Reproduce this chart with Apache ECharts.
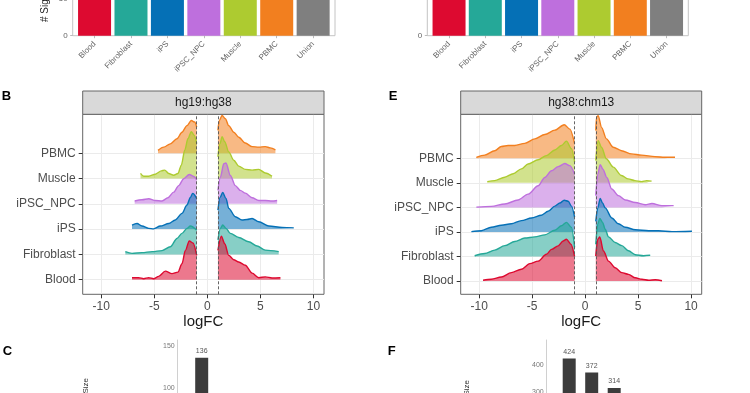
<!DOCTYPE html>
<html><head><meta charset="utf-8">
<script src="https://cdn.jsdelivr.net/npm/echarts@6/dist/echarts.min.js"></script>
<style>html,body{margin:0;padding:0;background:#fff}#c{width:750px;height:393px}</style>
</head><body><div id="c"></div>
<script>
// ---------- data ----------
const tissues = ['Blood','Fibroblast','iPS','iPSC_NPC','Muscle','PBMC'];
const barCats = ['Blood','Fibroblast','iPS','iPSC_NPC','Muscle','PBMC','Union'];
const ridgeTicks = [-10,-5,0,5,10];
// top panels (bars run past the top edge of the crop)
const sigLeft  = [120, 110, 130, 115, 100, 112, 160];
const sigRight = [420, 380, 450, 400, 360, 390, 560];
// bottom panels (intersection sizes visible in the crop)
const interC = [136];
const interF = [424, 372, 314];

// ridge densities, [logFC, scaled height] — hg19:hg38
const B_PBMC_neg = [[-4.65,0.11],[-4.11,0.24],[-3.49,0.37],[-2.86,0.57],[-2.39,0.83],[-1.92,1.09],[-1.51,1.29],[-1.19,1.23],[-1.0,1.03]];
const B_PBMC_pos = [[1.0,0.9],[1.13,1.29],[1.39,1.49],[1.7,1.36],[2.02,1.09],[2.49,0.83],[2.96,0.63],[3.58,0.4],[4.22,0.26],[4.85,0.24],[5.47,0.26],[5.94,0.21],[6.42,0.13]];
const B_Muscle_neg = [[-6.3,0.2],[-6.0,0.09],[-5.53,0.09],[-4.9,0.17],[-4.34,0.3],[-4.02,0.33],[-3.64,0.2],[-3.17,0.13],[-2.77,0.2],[-2.45,0.53],[-2.13,1.12],[-1.82,1.58],[-1.51,1.85],[-1.25,1.71],[-1.0,1.38]];
const B_Muscle_pos = [[1.0,0.86],[1.2,1.38],[1.39,1.65],[1.64,1.45],[2.02,1.05],[2.49,0.72],[2.96,0.49],[3.58,0.36],[4.22,0.33],[4.85,0.36],[5.47,0.22],[6.1,0.09]];
const B_NPC_neg = [[-6.85,0.11],[-6.16,0.16],[-5.53,0.2],[-4.9,0.13],[-4.27,0.11],[-3.71,0.24],[-3.17,0.46],[-2.7,0.72],[-2.23,0.99],[-1.7,1.16],[-1.28,1.08],[-1.0,0.95]];
const B_NPC_pos = [[1.0,0.53],[1.23,1.05],[1.55,1.58],[1.76,1.61],[2.17,1.12],[2.64,0.72],[3.11,0.53],[3.58,0.42],[4.22,0.24],[4.85,0.13],[5.47,0.13],[6.1,0.11],[6.58,0.13]];
const B_iPS_neg = [[-7.1,0.16],[-6.63,0.22],[-6.16,0.12],[-5.53,0.03],[-5.06,0.01],[-4.43,0.12],[-3.64,0.22],[-3.02,0.36],[-2.39,0.62],[-1.92,0.95],[-1.6,1.25],[-1.38,1.41],[-1.0,1.21]];
const B_iPS_pos = [[1.0,0.75],[1.2,1.25],[1.45,1.45],[1.76,1.21],[2.02,0.82],[2.64,0.49],[3.27,0.36],[3.75,0.38],[4.22,0.42],[4.85,0.29],[5.8,0.12],[7.05,0.07],[8.15,0.05]];
const B_Fib_neg = [[-7.73,0.11],[-7.1,0.04],[-6.16,0.07],[-5.2,0.11],[-4.27,0.15],[-3.49,0.3],[-2.86,0.63],[-2.39,0.83],[-1.92,1.03],[-1.6,1.12],[-1.0,0.96]];
const B_Fib_pos = [[1.0,0.57],[1.23,1.03],[1.45,1.16],[1.76,1.03],[2.17,0.83],[2.96,0.67],[3.9,0.5],[4.69,0.33],[5.47,0.17],[6.73,0.11]];
const B_Blood_neg = [[-7.1,0.08],[-6.47,0.08],[-6.0,0.04],[-5.53,0.08],[-5.06,0.04],[-4.59,0.13],[-3.96,0.34],[-3.33,0.24],[-2.77,0.3],[-2.39,0.63],[-2.07,1.16],[-1.7,1.53],[-1.35,1.45],[-1.0,0.96]];
const B_Blood_pos = [[1.0,1.16],[1.32,1.72],[1.64,1.42],[2.02,0.96],[2.49,0.79],[2.96,0.7],[3.58,0.57],[4.22,0.26],[4.85,0.08],[5.47,0.11],[6.1,0.07],[6.89,0.08]];

// ridge densities — hg38:chm13
const E_PBMC_neg = [[-10.27,0.04],[-9.48,0.13],[-8.54,0.31],[-7.91,0.48],[-7.28,0.52],[-6.65,0.52],[-5.7,0.61],[-4.75,0.79],[-3.81,0.97],[-2.86,1.15],[-1.98,1.37],[-1.45,1.19],[-1.0,0.6]];
const E_PBMC_pos = [[1.0,1.13],[1.07,1.67],[1.23,1.74],[1.54,1.26],[2.01,0.79],[2.65,0.45],[3.43,0.31],[4.38,0.18],[5.32,0.13],[6.59,0.07],[7.53,0.04],[8.48,0.04]];
const E_Muscle_neg = [[-9.24,0.05],[-8.54,0.09],[-7.59,0.23],[-6.8,0.37],[-6.02,0.57],[-5.39,0.77],[-4.44,0.94],[-3.66,1.11],[-2.86,1.34],[-2.24,1.52],[-1.77,1.7],[-1.29,1.39],[-1.0,0.85]];
const E_Muscle_pos = [[1.0,0.91],[1.23,1.72],[1.54,1.45],[2.0,0.98],[2.65,0.64],[3.43,0.3],[4.06,0.16],[4.7,0.09],[5.32,0.05],[5.8,0.09],[6.27,0.07]];
const E_NPC_neg = [[-10.27,0.01],[-8.86,0.04],[-7.59,0.14],[-6.33,0.3],[-5.39,0.54],[-4.44,0.88],[-3.81,1.22],[-3.18,1.49],[-2.55,1.66],[-1.92,1.79],[-1.45,1.7],[-1.0,1.35]];
const E_NPC_pos = [[1.0,0.48],[1.19,1.36],[1.42,1.74],[1.67,1.56],[2.04,1.22],[2.51,0.75],[3.14,0.48],[3.78,0.3],[4.73,0.2],[5.67,0.11],[6.3,0.16],[7.24,0.07],[8.35,0.07]];
const E_iPS_neg = [[-10.74,0.01],[-9.8,0.05],[-8.86,0.19],[-7.91,0.27],[-6.97,0.33],[-6.02,0.46],[-5.07,0.57],[-4.13,0.68],[-3.5,0.84],[-2.86,1.05],[-2.39,1.18],[-1.98,1.29],[-1.6,1.25],[-1.29,1.05],[-1.0,0.6]];
const E_iPS_pos = [[1.0,0.43],[1.19,0.98],[1.42,1.36],[1.64,1.18],[1.89,0.98],[2.51,0.57],[3.14,0.33],[3.78,0.19],[4.73,0.09],[5.99,0.05],[6.93,0.05],[8.19,0.01],[10.08,0.03]];
const E_Fib_neg = [[-10.43,0.03],[-9.48,0.12],[-8.54,0.26],[-7.59,0.44],[-6.65,0.61],[-5.7,0.75],[-4.75,0.8],[-3.81,0.88],[-2.86,1.07],[-2.24,1.25],[-1.77,1.39],[-1.29,1.18],[-1.0,0.37]];
const E_Fib_pos = [[1.0,0.5],[1.19,1.32],[1.38,1.55],[1.64,1.39],[1.89,1.11],[2.2,0.8],[2.83,0.57],[3.46,0.44],[4.09,0.23],[4.73,0.07],[5.51,0.03],[6.14,0.05]];
const E_Blood_neg = [[-9.64,0.03],[-8.86,0.07],[-7.91,0.16],[-6.97,0.34],[-6.02,0.48],[-5.23,0.71],[-4.44,0.81],[-3.66,1.09],[-3.18,1.29],[-2.55,1.43],[-2.08,1.63],[-1.77,1.7],[-1.35,1.5],[-1.0,1.0]];
const E_Blood_pos = [[1.0,1.02],[1.19,1.7],[1.38,1.79],[1.73,1.22],[2.2,0.81],[2.83,0.54],[3.46,0.34],[4.09,0.27],[4.73,0.13],[5.36,0.07],[5.99,0.03],[6.62,0.05],[7.25,0.01]];

const ridgesB = {PBMC:[B_PBMC_neg,B_PBMC_pos], Muscle:[B_Muscle_neg,B_Muscle_pos], iPSC_NPC:[B_NPC_neg,B_NPC_pos], iPS:[B_iPS_neg,B_iPS_pos], Fibroblast:[B_Fib_neg,B_Fib_pos], Blood:[B_Blood_neg,B_Blood_pos]};
const ridgesE = {PBMC:[E_PBMC_neg,E_PBMC_pos], Muscle:[E_Muscle_neg,E_Muscle_pos], iPSC_NPC:[E_NPC_neg,E_NPC_pos], iPS:[E_iPS_neg,E_iPS_pos], Fibroblast:[E_Fib_neg,E_Fib_pos], Blood:[E_Blood_neg,E_Blood_pos]};

// ---------- style ----------
const FONT = 'Liberation Sans, Arial, Helvetica, sans-serif';
const colors = {Blood:'#DD0A30', Fibroblast:'#25A898', iPS:'#0570B6', iPSC_NPC:'#BE6FDD', Muscle:'#ADCB30', PBMC:'#F27F1F', Union:'#7F7F7F'};
const TXT = '#4D4D4D';

const chart = echarts.init(document.getElementById('c'), null, {renderer:'canvas'});

function barXAxis(gi){
  return {gridIndex:gi, type:'value', min:0.4, max:7.6,
    axisLine:{show:false, onZero:false}, splitLine:{show:false},
    axisTick:{show:true, length:2.5, lineStyle:{color:'#AAAAAA', width:0.8}, customValues:[1,2,3,4,5,6,7]},
    axisLabel:{customValues:[1,2,3,4,5,6,7], formatter:v=>barCats[Math.round(v)-1], rotate:45, fontSize:8, color:'#666', margin:7, fontFamily:FONT}};
}
function barYAxis(gi, max, interval){
  return {gridIndex:gi, type:'value', min:0, max:max, interval:interval,
    axisLine:{show:false, onZero:false}, splitLine:{show:false},
    axisTick:{show:true, length:2.5, lineStyle:{color:'#AAAAAA', width:0.8}},
    axisLabel:{fontSize:8, color:'#666', margin:5, fontFamily:FONT}};
}
function ridgeXAxis(gi){
  return {gridIndex:gi, type:'value', min:-11.75, max:11.0,
    name:'logFC', nameLocation:'middle', nameGap:20,
    nameTextStyle:{fontSize:15, color:'#1A1A1A', fontFamily:FONT},
    axisLine:{show:false, onZero:false},
    axisTick:{show:true, length:4, lineStyle:{color:'#333', width:1}, customValues:ridgeTicks},
    axisLabel:{customValues:ridgeTicks, fontSize:12, color:TXT, margin:6, fontFamily:FONT},
    splitLine:{show:true, lineStyle:{color:'#EBEBEB', width:1}}};
}
function ridgeYAxis(gi, min, max){
  return {gridIndex:gi, type:'value', min:min, max:max,
    axisLine:{show:false, onZero:false},
    axisTick:{show:true, length:4, lineStyle:{color:'#333', width:1}, customValues:[1,2,3,4,5,6]},
    axisLabel:{customValues:[1,2,3,4,5,6], formatter:v=>tissues[Math.round(v)-1], fontSize:12, color:TXT, margin:7, fontFamily:FONT},
    splitLine:{show:true, lineStyle:{color:'#EBEBEB', width:1}}};
}
function upXAxis(gi){
  return {gridIndex:gi, type:'value', min:0, max:8, show:false, axisLine:{onZero:false}};
}
function upYAxis(gi, max, interval){
  return {gridIndex:gi, type:'value', min:0, max:max, interval:interval,
    axisLine:{show:true, onZero:false, lineStyle:{color:'#D0D0D0', width:1}},
    axisTick:{show:false}, splitLine:{show:false},
    axisLabel:{fontSize:7, color:'#777', margin:3, showMaxLabel:false, fontFamily:FONT}};
}

const series = [];
// top bars
series.push({type:'bar', xAxisIndex:0, yAxisIndex:0, barWidth:33,
  data: sigLeft.map((v,i)=>({value:[i+1,v], itemStyle:{color:colors[barCats[i]]}}))});
series.push({type:'bar', xAxisIndex:1, yAxisIndex:1, barWidth:33,
  data: sigRight.map((v,i)=>({value:[i+1,v], itemStyle:{color:colors[barCats[i]]}}))});

function addRidges(ridges, ai){
  const order = ['PBMC','Muscle','iPSC_NPC','iPS','Fibroblast','Blood'];
  order.forEach((t, k)=>{
    const base = tissues.indexOf(t) + 1;
    ridges[t].forEach((pts, side)=>{
      const s = {type:'line', xAxisIndex:ai, yAxisIndex:ai,
        data: pts.map(p=>[p[0], base + p[1]]),
        smooth:0.3, smoothMonotone:'x', symbol:'none', showSymbol:false,
        lineStyle:{color:colors[t], width:1.4},
        areaStyle:{color:colors[t], opacity:0.55, origin:base},
        z: 2 + k*0.01, silent:true};
      if (t==='Blood' && side===1){
        s.markLine = {silent:true, symbol:['none','none'], label:{show:false},
          lineStyle:{color:'#555', type:[3,2], width:0.9},
          data:[{xAxis:-1},{xAxis:1}]};
      }
      series.push(s);
    });
  });
}
addRidges(ridgesB, 2);
addRidges(ridgesE, 3);

const upLabel = {show:true, position:'top', fontSize:7, color:'#555', distance:3, fontFamily:FONT};
series.push({type:'bar', xAxisIndex:4, yAxisIndex:4, barWidth:13, itemStyle:{color:'#3C3C3C'}, label:upLabel,
  data: interC.map((v,i)=>[i+1,v])});
series.push({type:'bar', xAxisIndex:5, yAxisIndex:5, barWidth:13, itemStyle:{color:'#3C3C3C'}, label:upLabel,
  data: interF.map((v,i)=>[i+1,v])});

function strip(x, w, txt){
  return [
    {type:'rect', shape:{x:x, y:91, width:w, height:23.3}, style:{fill:'#D9D9D9', stroke:'#666', lineWidth:1}, z:10},
    {type:'text', x:x+w/2, y:102.7, style:{text:txt, fontSize:12, fill:'#1A1A1A', align:'center', verticalAlign:'middle', fontFamily:FONT}, z:11}
  ];
}
function letter(t, x, y){
  return {type:'text', x:x, y:y, style:{text:t, fontSize:13, fontWeight:'bold', fill:'#000', align:'center', verticalAlign:'middle', fontFamily:FONT}, z:11};
}
const G = {show:true, backgroundColor:'transparent', outerBoundsMode:'none', containLabel:false};

chart.setOption({
  backgroundColor:'#ffffff',
  animation:false,
  textStyle:{fontFamily:FONT},
  grid:[
    Object.assign({left:72.7, top:-75.9, width:262.3, height:111.6, borderColor:'#C4C4C4', borderWidth:1}, G),
    Object.assign({left:427.3, top:-99.3, width:261, height:135, borderColor:'#C4C4C4', borderWidth:1}, G),
    Object.assign({left:82.7, top:114.3, width:241.3, height:180, borderColor:'#666', borderWidth:1}, G),
    Object.assign({left:460.7, top:114.3, width:241, height:180, borderColor:'#666', borderWidth:1}, G),
    {left:177.7, top:340, width:192, height:133.5, outerBoundsMode:'none', containLabel:false},
    {left:546.7, top:340, width:180, height:131.8, outerBoundsMode:'none', containLabel:false}
  ],
  xAxis:[barXAxis(0), barXAxis(1), ridgeXAxis(2), ridgeXAxis(3), upXAxis(4), upXAxis(5)],
  yAxis:[barYAxis(0,150,50), barYAxis(1,600,200), ridgeYAxis(2,0.423,7.537), ridgeYAxis(3,0.458,7.793), upYAxis(4,156.7,50), upYAxis(5,493.6,100)],
  series: series,
  graphic:[
    ...strip(82.7, 241.3, 'hg19:hg38'),
    ...strip(460.7, 241, 'hg38:chm13'),
    letter('B', 6.5, 96), letter('E', 393, 96), letter('C', 7.5, 351), letter('F', 391.7, 351),
    {type:'text', x:45.7, y:22, rotation:Math.PI/2, style:{text:'# Significant genes', fontSize:10, fill:'#222', align:'left', verticalAlign:'middle', fontFamily:FONT}},
    {type:'text', x:86, y:378, rotation:Math.PI/2, style:{text:'Intersection Size', fontSize:8, fill:'#333', align:'right', verticalAlign:'middle', fontFamily:FONT}},
    {type:'text', x:466.7, y:380, rotation:Math.PI/2, style:{text:'Intersection Size', fontSize:8, fill:'#333', align:'right', verticalAlign:'middle', fontFamily:FONT}}
  ]
});
</script></body></html>
